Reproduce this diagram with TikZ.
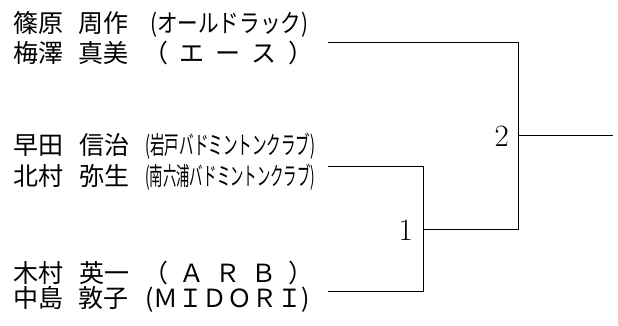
\documentclass[tikz,border=0pt]{standalone}
\usepackage{fontspec}
\usepackage{graphicx}
\newfontfamily\jp{Noto Sans CJK JP}
\newcommand{\teamname}[2]{\resizebox{#1}{\height}{#2}}
\newcommand{\teamspread}[2]{\makebox[#1][s]{#2}}

\tikzstyle{player}=[anchor=base west,inner sep=0pt,font=\jp\fontsize{25}{28}\selectfont]
\tikzstyle{game}=[anchor=east,inner sep=0pt,font=\fontsize{31}{34}\selectfont]
\tikzstyle{bracket}=[draw,line width=0.8pt,-]

\begin{document}
\begin{tikzpicture}[x=1pt,y=-1pt]
			\useasboundingbox (0,0) rectangle (618,325);
			% players, one row each
			\node[player] (s1) at (13,32) {篠原};
			\node[player] (g1) at (78,32) {周作};
			\node[player] (t1) at (150,32) {\teamname{158pt}{(オールドラック)}};
			\node[player] (s2) at (13,62) {梅澤};
			\node[player] (g2) at (78,62) {真美};
			\node[player] (t2) at (143,62) {\teamspread{170pt}{（\hfill エ\hfill ー\hfill ス\hfill ）}};
			\node[player] (s3) at (13,154) {早田};
			\node[player] (g3) at (79,154) {信治};
			\node[player] (t3) at (145,154) {\teamname{170pt}{(岩戸バドミントンクラブ)}};
			\node[player] (s4) at (13,185) {北村};
			\node[player] (g4) at (79,185) {弥生};
			\node[player] (t4) at (145,185) {\teamname{170pt}{(南六浦バドミントンクラブ)}};
			\node[player] (s5) at (13,282) {木村};
			\node[player] (g5) at (79,282) {英一};
			\node[player] (t5) at (143,282) {\teamspread{170pt}{（\hfill Ａ\hfill Ｒ\hfill Ｂ\hfill ）}};
			\node[player] (s6) at (13,307) {中島};
			\node[player] (g6) at (78,307) {敦子};
			\node[player] (t6) at (145,307) {\teamname{165pt}{(ＭＩＤＯＲＩ)}};
	    		% ends of the bracket
			\coordinate (a) at (328,42);
			\coordinate (b) at (328,166);
			\coordinate (c) at (328,291);
			\coordinate (m1) at (423,229);
			\coordinate (m2) at (518,135);
			\coordinate (w) at (613,135);
	   		 % Connect pairs to games
	   		 \foreach \source/ \dest in {b/m1, c/m1, a/m2, m1/m2}
			 \path[bracket] (\source) -| (\dest);
			\path[bracket] (m2) -- (w);
			\node[game] (n1) at ([xshift=-10pt,yshift=-1pt]m1) {1};
			\node[game] (n2) at ([xshift=-9pt,yshift=-1pt]m2) {2};
		\end{tikzpicture}
\end{document}
